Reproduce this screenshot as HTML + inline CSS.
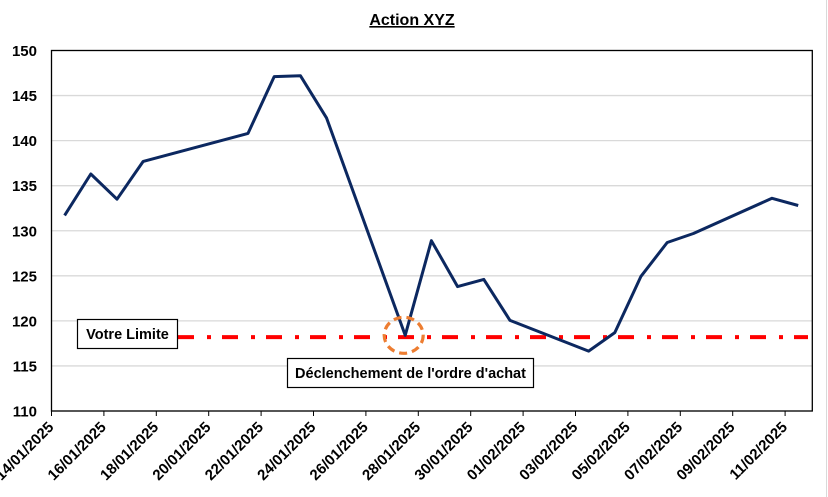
<!DOCTYPE html>
<html><head><meta charset="utf-8"><style>
html,body{margin:0;padding:0;background:#fff;}
svg{display:block;font-family:"Liberation Sans",sans-serif;}
</style></head><body>
<svg id="chart" width="828" height="497" viewBox="0 0 828 497" xmlns="http://www.w3.org/2000/svg">
<rect x="0" y="0" width="828" height="497" fill="#fff"/>
<line x1="826.5" y1="0" x2="826.5" y2="497" stroke="#d9d9d9" stroke-width="1"/>
<text x="412" y="25" text-anchor="middle" font-size="16" font-weight="bold" text-decoration="underline">Action XYZ</text>
<g id="grid"></g>
<g id="yticks"></g>
<g id="xticks"></g>
<g id="series"></g>
<rect x="51.5" y="50.5" width="760.8" height="360.5" fill="none" stroke="#000" stroke-width="1.3"/>
</svg>
<script>
const categories = ["14/01/2025","15/01/2025","16/01/2025","17/01/2025","21/01/2025","22/01/2025","23/01/2025","24/01/2025","27/01/2025","28/01/2025","29/01/2025","30/01/2025","31/01/2025","03/02/2025","04/02/2025","05/02/2025","06/02/2025","07/02/2025","10/02/2025","11/02/2025"];
const prices = [131.7,136.3,133.5,137.7,140.8,147.1,147.2,142.5,118.4,128.9,123.8,124.6,120.05,116.65,118.7,124.95,128.7,129.7,133.6,132.8];
const tickLabels = ["14/01/2025","16/01/2025","18/01/2025","20/01/2025","22/01/2025","24/01/2025","26/01/2025","28/01/2025","30/01/2025","01/02/2025","03/02/2025","05/02/2025","07/02/2025","09/02/2025","11/02/2025"];
const yTicks = [110,115,120,125,130,135,140,145,150];
const limitValue = [118.2];
const triggerDate = ["27/01/2025"];

const NS="http://www.w3.org/2000/svg";
const X0=51.5, DAY=26.2, Y0=411, Y1=50.5, VMIN=110, VMAX=150;
function dayIdx(s){const [d,m,y]=s.split('/').map(Number);return (Date.UTC(y,m-1,d)-Date.UTC(2025,0,14))/86400000;}
function xTick(s){return X0+dayIdx(s)*DAY;}
function xPt(s){return X0+(dayIdx(s)+0.5)*DAY;}
function yS(v){return Y0-(v-VMIN)/(VMAX-VMIN)*(Y0-Y1);}
function mk(tag,attrs,parent){const e=document.createElementNS(NS,tag);for(const k in attrs)e.setAttribute(k,attrs[k]);parent.appendChild(e);return e;}

const grid=document.getElementById('grid'), yt=document.getElementById('yticks'), xt=document.getElementById('xticks'), ser=document.getElementById('series');
yTicks.forEach(v=>{
  const g=mk('line',{x1:X0,x2:812.3,y1:yS(v),y2:yS(v),stroke:'#d9d9d9','stroke-width':1.3},grid);
  
  
  const t=mk('text',{x:37,y:yS(v)+5.5,'text-anchor':'end','font-size':15,'font-weight':'bold'},yt);
  t.textContent=v;
  
  
});
tickLabels.forEach(s=>{
  const x=xTick(s);
  const l=mk('line',{x1:x,x2:x,y1:Y0,y2:Y0+5,stroke:'#000','stroke-width':1},xt);
  
  
  const t=mk('text',{x:x+3,y:Y0+17,'text-anchor':'end','font-size':15,'font-weight':'bold',transform:`rotate(-45 ${x+3} ${Y0+17})`},xt);
  t.textContent=s;
  
  
});
const ly=yS(limitValue[0]);
const lim=mk('line',{x1:178,x2:808,y1:ly,y2:ly,stroke:'#ff0000','stroke-width':4,'stroke-dasharray':'16 13 4 11'},ser);


const pts=categories.map((c,i)=>xPt(c).toFixed(1)+','+yS(prices[i]).toFixed(1)).join(' ');
const pl=mk('polyline',{points:pts,fill:'none',stroke:'#0c2860','stroke-width':3,'stroke-linejoin':'round'},ser);


const ti=categories.indexOf(triggerDate[0]);
const cx=xPt(triggerDate[0]), cy=yS(prices[ti]);
const c=mk('ellipse',{cx:cx-1.5,cy:cy,rx:19.5,ry:18,fill:'none',stroke:'#ed7d31','stroke-width':3.2,'stroke-dasharray':'8 5'},ser);


function box(x,y,w,h,text,name){
  const g=mk('g',{},ser);
  
  
  mk('rect',{x:x,y:y,width:w,height:h,fill:'#fff',stroke:'#000','stroke-width':1.2},g);
  const t=mk('text',{x:x+w/2,y:y+h/2+5,'text-anchor':'middle','font-size':14.5,'font-weight':'bold'},g);
  t.textContent=text;
}
box(77.5,319.5,100,29,'Votre Limite','limit-label');
box(287.5,358.5,246,29,"Déclenchement de l'ordre d'achat",'trigger-label');
</script>
</body></html>
